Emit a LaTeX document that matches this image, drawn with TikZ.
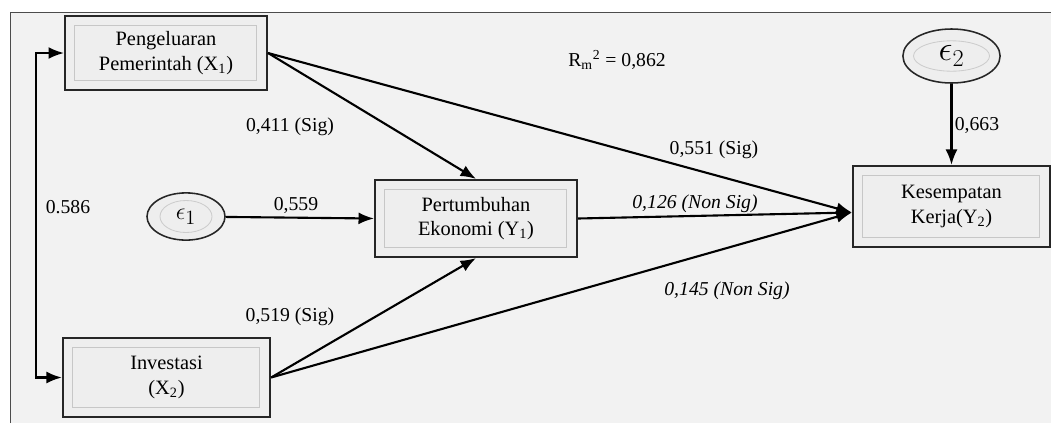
\documentclass[tikz,border=0pt]{standalone}
\usepackage{fontspec}
\setmainfont{Liberation Serif}
\usetikzlibrary{arrows.meta,shapes.geometric}
\definecolor{latar}{HTML}{F2F2F2}
\definecolor{kotak}{HTML}{EEEEEE}
\tikzset{
  variabel/.style={draw=black!85,line width=1.4pt,fill=kotak,rectangle,align=center,
    font=\fontsize{14.5}{17.5}\selectfont,
    path picture={\draw[black!22,line width=0.7pt]
      ([shift={(0.25cm,-0.24cm)}]path picture bounding box.north west) rectangle
      ([shift={(-0.27cm,0.25cm)}]path picture bounding box.south east);}},
  galat/.style 2 args={draw=black!85,line width=1.1pt,fill=kotak,ellipse,inner sep=0pt,
    path picture={\draw[black!20,line width=0.6pt] (path picture bounding box.center) ellipse (#1 and #2);}},
  panah/.style={-{Latex[length=11pt,width=8.5pt]},line width=1.5pt},
  koef/.style={font=\fontsize{14}{17}\selectfont}
}
\begin{document}
\begin{tikzpicture}[x=0.025cm,y=-0.025cm]
        \useasboundingbox (0,0) rectangle (1051,423);
        %% frame
        \fill[white] (0,0) rectangle (1051,423);
        \fill[latar] (10,12) rectangle (1051,423);
        \draw[black!70,line width=0.6pt] (10,423) -- (10,12) -- (1051,12);
        %% variables
        \node[variabel,minimum width=5.05cm,minimum height=1.85cm] (pengeluaran) at (166,53) {Pengeluaran\\Pemerintah (X\textsubscript{1})};
        \node[variabel,minimum width=5.18cm,minimum height=1.98cm] (investasi) at (166.5,377.5) {Investasi\\(X\textsubscript{2})};
        \node[variabel,minimum width=5.05cm,minimum height=1.93cm] (pertumbuhan) at (476,218.5) {Pertumbuhan\\Ekonomi (Y\textsubscript{1})};
        \node[variabel,minimum width=4.93cm,minimum height=2.03cm] (kesempatan) at (951.5,206.5) {Kesempatan\\Kerja(Y\textsubscript{2})};
        %% errors
        \node[galat={0.65cm}{0.4cm},minimum width=1.95cm,minimum height=1.18cm,font=\fontsize{19}{22}\selectfont] (eps1) at (186,216.5) {$\epsilon_1$};
        \node[galat={0.95cm}{0.38cm},minimum width=2.43cm,minimum height=1.35cm,font=\fontsize{23}{26}\selectfont] (eps2) at (951.5,56) {$\epsilon_2$};
        %% paths
        \draw[panah] (pengeluaran.east) -- (pertumbuhan.north);
        \draw[panah] (investasi.east) -- (pertumbuhan.south);
        \draw[panah] (pengeluaran.east) -- ([yshift=-0.15cm]kesempatan.west);
        \draw[panah] (investasi.east) -- ([yshift=-0.15cm]kesempatan.west);
        \draw[panah] (pertumbuhan.east) -- ([yshift=-0.15cm]kesempatan.west);
        \draw[panah] (eps1) -- (pertumbuhan.west);
        \draw[panah] (eps2) -- (kesempatan.north);
        \draw[{Latex[length=11pt,width=8.5pt]}-{Latex[length=11pt,width=8.5pt]},line width=1.5pt] (pengeluaran.west) -- ++(-28,0) |- (investasi.west);
        %% coefficients
        \node[koef] (k411) at (290,127) {0,411 (Sig)};
        \node[koef] (k586) at (68,207) {0.586};
        \node[koef] (k559) at (296,205) {0,559};
        \node[koef] (k519) at (290,317) {0,519 (Sig)};
        \node[koef] (rkuadrat) at (617,60) {R\textsubscript{m}\textsuperscript{2} = 0,862};
        \node[koef] (k663) at (977,125) {0,663};
        \node[koef] (k551) at (714,150) {0,551 (Sig)};
        \node[koef,font=\fontsize{14}{17}\selectfont\itshape] (k126) at (695,204) {0,126 (Non Sig)};
        \node[koef,font=\fontsize{14}{17}\selectfont\itshape] (k145) at (727,291) {0,145 (Non Sig)};
    \end{tikzpicture}
\end{document}
